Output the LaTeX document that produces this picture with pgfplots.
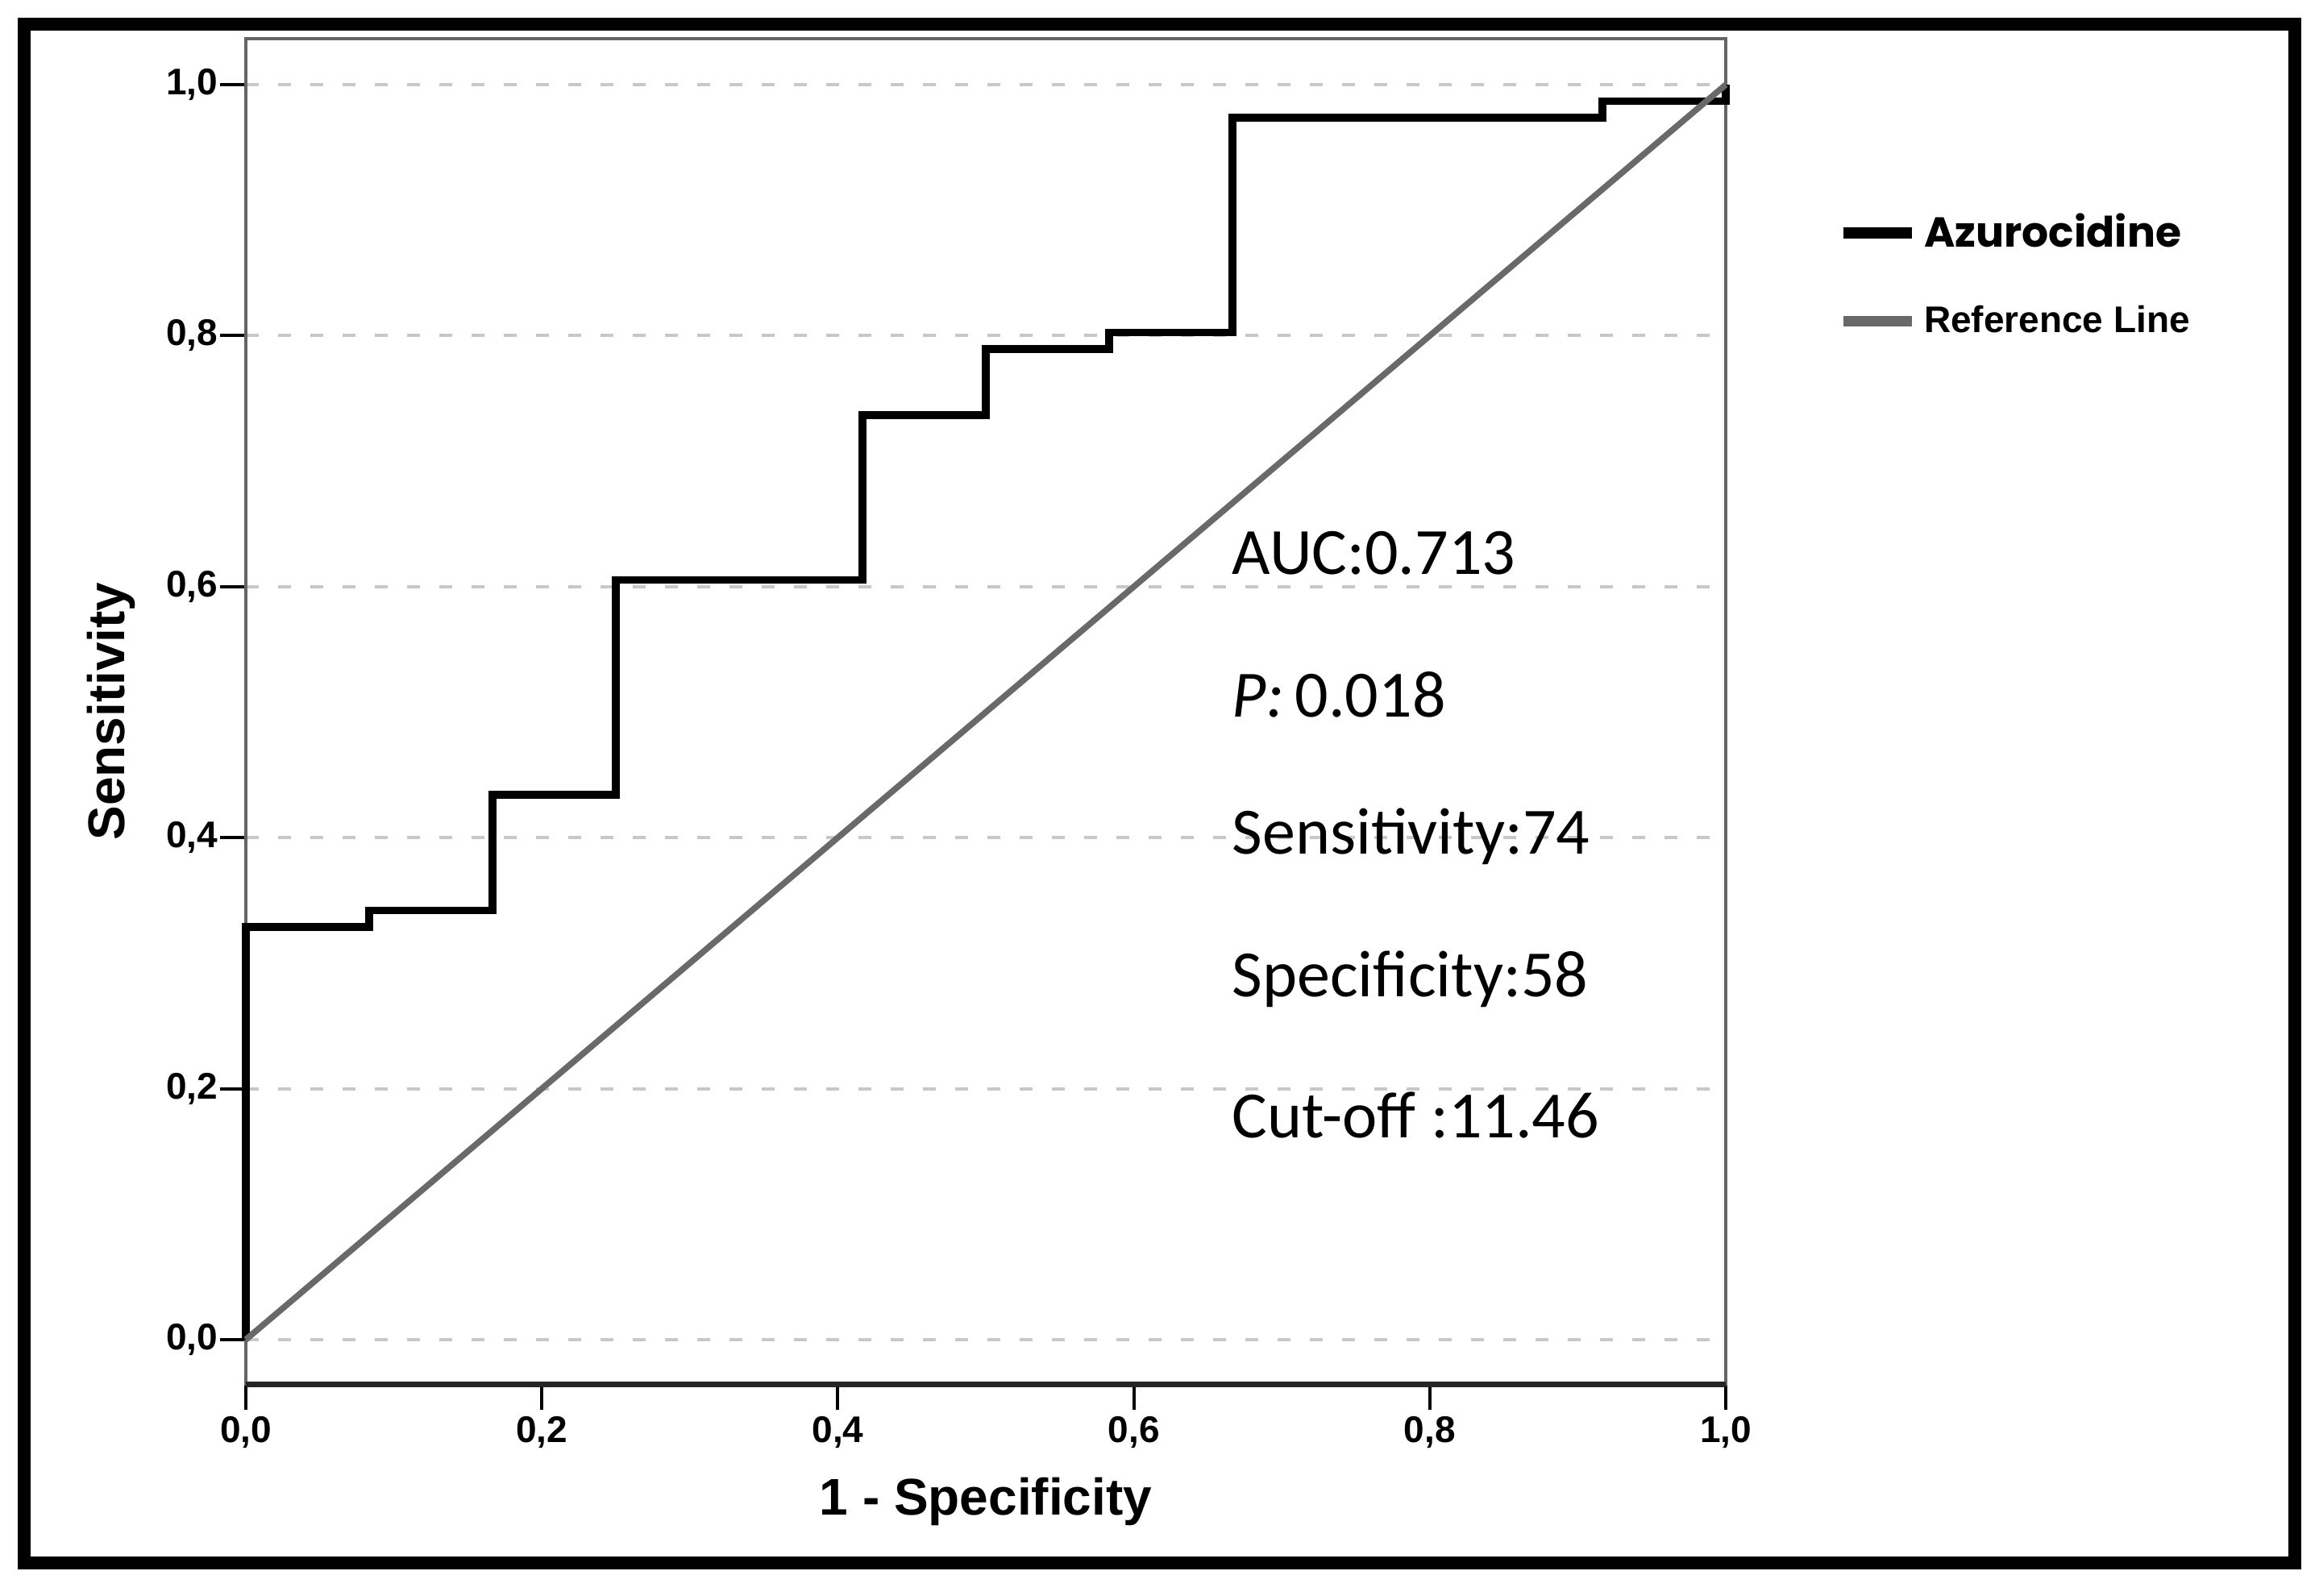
\documentclass[border=0pt]{standalone}
\usepackage{fontspec}
\setmainfont{Liberation Sans}
\newfontfamily\carlito{Carlito}
\newfontfamily\poppins{Poppins}
\usepackage{pgfplots}
\pgfplotsset{compat=1.18}
\definecolor{refgray}{RGB}{105,105,105}
\definecolor{gridgray}{RGB}{200,200,200}
\definecolor{axgray}{RGB}{100,100,100}
\begin{document}
\begin{tikzpicture}
\useasboundingbox (-76.25pt,-65.5pt) rectangle (643pt,429.25pt);
\fill[white] (-76.25pt,-65.5pt) rectangle (643pt,429.25pt);
\begin{axis}[
  scale only axis, width=459pt, height=417.25pt,
  xmin=0, xmax=1, ymin=-0.0354, ymax=1.0367,
  xtick={0,0.2,0.4,0.6,0.8,1}, ytick={0,0.2,0.4,0.6,0.8,1},
  tick pos=left, tick align=outside, major tick length=8pt,
  tick style={line width=1pt, black},
  axis line style={line width=0.9pt, draw=axgray},
  ymajorgrids, grid style={gridgray, line width=1pt, dash pattern=on 4pt off 6pt},
  xticklabel={\pgfmathprintnumber[use comma,fixed,fixed zerofill,precision=1,assume math mode=true]{\tick}},
  yticklabel={\pgfmathprintnumber[use comma,fixed,fixed zerofill,precision=1,assume math mode=true]{\tick}},
  ticklabel style={font=\bfseries\fontsize{11.5}{13}\selectfont, inner sep=0.5pt},
  xticklabel style={inner ysep=1.8pt},
  xlabel={1 - Specificity}, ylabel={Sensitivity},
  label style={font=\bfseries\fontsize{16}{19}\selectfont},
  xlabel style={at={(axis description cs:0.5,-0.0875)}, anchor=center},
  ylabel style={at={(axis description cs:-0.091,0.5)}, anchor=center},
  clip=false,
  legend style={at={(axis description cs:1.0757,0.824)}, anchor=west, draw=none, fill=none,
    inner sep=0pt, row sep=14.5pt, nodes={inner xsep=2pt, inner ysep=1pt}},
  legend cell align=left,
  legend image code/.code={\draw[#1] (0pt,0pt) -- (21.25pt,0pt);},
]
\addplot[black, line width=2.4pt, line join=miter, legend image post style={line width=3.3pt}] coordinates {
 (0,0) (0,0.3289) (0.0833,0.3289) (0.0833,0.3421) (0.1667,0.3421) (0.1667,0.4342)
 (0.25,0.4342) (0.25,0.6053) (0.4167,0.6053) (0.4167,0.7368) (0.5,0.7368) (0.5,0.7895)
 (0.5833,0.7895) (0.5833,0.8026) (0.6667,0.8026) (0.6667,0.9737) (0.9167,0.9737)
 (0.9167,0.9868) (1,0.9868) (1,1)
};
\addlegendentry{\poppins\bfseries\fontsize{13}{16}\selectfont Azurocidine}
\addplot[refgray, line width=1.9pt, legend image post style={line width=3.3pt}] coordinates {(0,0) (1,1)};
\addlegendentry{\bfseries\fontsize{11.5}{13}\selectfont Reference Line}
\draw[line width=1.75pt, black!85] (rel axis cs:0,0) -- (rel axis cs:1,0);
\begin{scope}[every node/.style={anchor=base west, inner sep=0pt, font=\carlito\fontsize{20.5}{24}\selectfont}]
\node at (axis cs:0.6661,0.610) {AUC:0.713};
\node at (axis cs:0.6661,0.496) {\textit{P:}\,0.018};
\node at (axis cs:0.6661,0.387) {Sensitivity:74};
\node at (axis cs:0.6661,0.273) {Specificity:58};
\node at (axis cs:0.6661,0.161) {Cut-off :11.46};
\end{scope}
\end{axis}
\draw[line width=4pt] (-68.75pt,-55.5pt) rectangle (635.5pt,421.75pt);
\end{tikzpicture}
\end{document}
